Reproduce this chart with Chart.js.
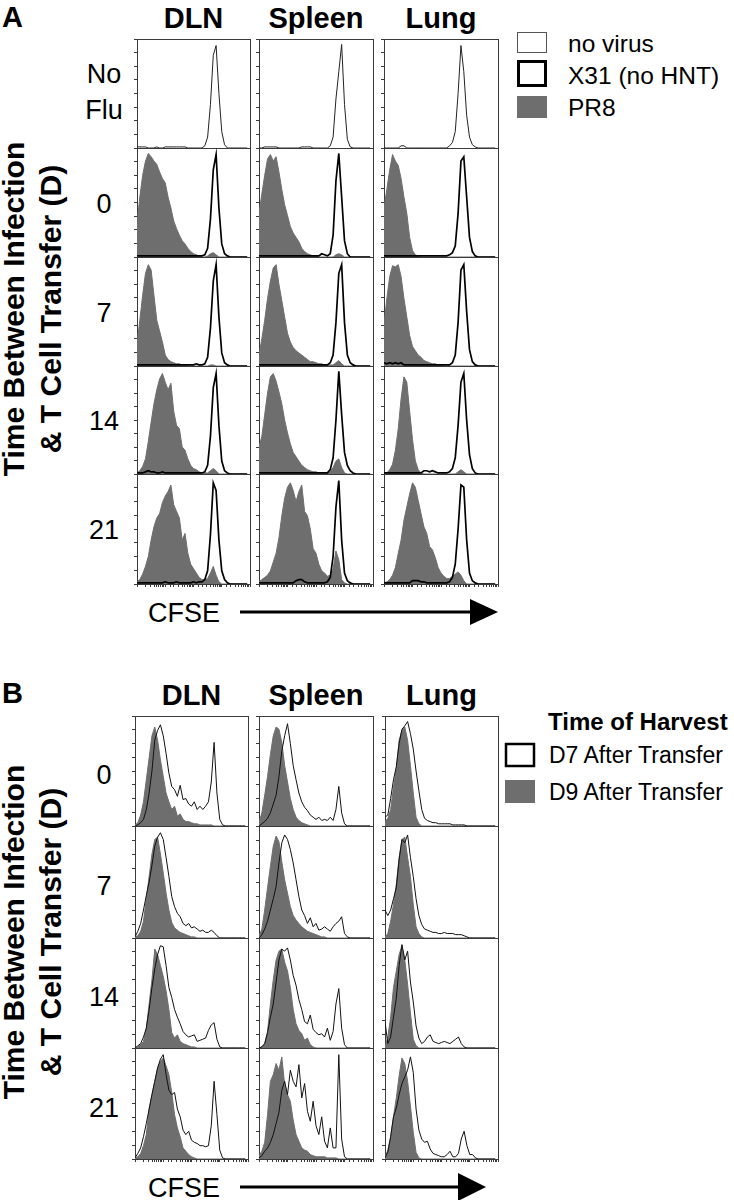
<!DOCTYPE html>
<html>
<head>
<meta charset="utf-8">
<script src="https://cdn.jsdelivr.net/npm/chart.js@4.4.1/dist/chart.umd.min.js"></script>
<style>
  body { margin: 0; background: #fff; }
  #fig { position: relative; width: 734px; height: 1200px; font-family: "Liberation Sans", Arial, sans-serif; }
  #ann { position: absolute; left: 0; top: 0; }
  canvas { position: absolute; }
</style>
</head>
<body>
<div id="fig">
  <svg id="ann" width="734" height="1200" font-family="Liberation Sans, Arial, sans-serif"></svg>
</div>
<script>
// labels
const tissues = ["DLN", "Spleen", "Lung"];
const rowLabelsA = [["No", "Flu"], ["0"], ["7"], ["14"], ["21"]];
const rowLabelsB = ["0", "7", "14", "21"];
const legendA = ["no virus", "X31 (no HNT)", "PR8"];
const legendTitleB = "Time of Harvest";
const legendB = ["D7 After Transfer", "D9 After Transfer"];
const yTitle = ["Time Between Infection", "& T Cell Transfer (D)"];
const xTitle = "CFSE";

// histograms, 40 CFSE bins each, % of max count
// A, no flu (no virus)
const noVirusDLN    = [1,1,1,1,0,0,0,1,0,0,1,1,1,1,1,1,1,1,0,0,0,0,0,0,2,10,40,85,94,50,15,3,0,0,0,0,0,0,0,0];
const noVirusSpleen = [0,0,1,1,1,1,1,0,0,0,0,0,0,0,0,1,1,1,1,0,0,0,0,0,0,2,10,45,70,95,40,8,1,0,0,0,0,0,0,0];
const noVirusLung   = [0,0,0,0,0,0,2,2,0,0,0,0,0,0,0,0,0,0,0,0,0,0,0,2,5,15,50,94,70,30,10,3,1,0,0,0,0,0,0,0];

// A, day 0
const x31_0_DLN    = [1,1,1,1,1,1,1,1,1,1,1,1,1,1,1,1,1,1,1,1,1,1,1,1,2,8,35,80,94,45,12,3,1,0,0,0,0,0,0,0];
const pr8_0_DLN    = [30,55,75,88,95,92,88,85,78,72,68,55,45,33,26,20,15,12,8,5,3,2,1,0,0,1,3,4,2,0,0,0,0,0,0,0,0,0,0,0];
const x31_0_Spleen = [1,1,1,1,1,1,1,1,1,1,1,1,1,1,1,1,1,1,1,1,1,1,3,2,1,3,20,70,95,55,15,3,0,0,0,0,0,0,0,0];
const pr8_0_Spleen = [40,58,75,90,94,88,92,78,62,48,38,28,22,18,14,8,5,3,2,1,1,0,0,0,0,0,0,2,3,2,0,0,0,0,0,0,0,0,0,0];
const x31_0_Lung   = [1,1,1,1,1,1,1,1,1,1,1,1,1,1,1,1,1,1,1,1,1,1,1,2,4,10,40,88,92,55,18,5,1,0,0,0,0,0,0,0];
const pr8_0_Lung   = [45,62,80,94,88,84,72,55,40,18,6,2,1,0,0,0,0,0,0,0,0,0,0,0,0,0,0,0,0,0,0,0,0,0,0,0,0,0,0,0];

// A, day 7
const x31_7_DLN    = [1,1,1,1,1,1,1,1,1,1,1,1,1,1,1,1,1,1,1,1,1,2,1,1,2,8,35,78,93,45,12,3,1,0,0,0,0,0,0,0];
const pr8_7_DLN    = [20,42,65,85,93,88,65,42,32,22,10,6,4,3,2,2,1,1,0,0,0,0,0,0,0,0,1,1,0,0,0,0,0,0,0,0,0,0,0,0];
const x31_7_Spleen = [1,1,1,1,1,1,1,1,1,1,1,1,1,1,1,1,1,1,1,1,1,1,1,1,1,3,10,40,85,93,40,10,3,1,0,0,0,0,0,0];
const pr8_7_Spleen = [10,25,42,62,78,90,93,75,60,45,30,22,17,14,12,10,8,6,4,4,3,2,2,1,1,1,1,3,5,2,0,0,0,0,0,0,0,0,0,0];
const x31_7_Lung   = [3,2,3,2,3,2,3,1,1,1,1,1,1,1,1,1,1,1,1,1,1,1,1,1,3,10,40,88,93,50,15,4,1,0,0,0,0,0,0,0];
const pr8_7_Lung   = [38,62,82,92,91,93,82,62,45,28,18,14,10,8,5,4,3,2,2,1,1,0,0,0,0,0,0,0,0,0,0,0,0,0,0,0,0,0,0,0];

// A, day 14
const x31_14_DLN    = [1,1,1,2,3,2,2,1,1,2,1,1,1,1,1,1,1,1,1,1,1,1,1,1,2,8,35,80,93,45,12,3,1,0,0,0,0,0,0,0];
const pr8_14_DLN    = [1,3,7,14,30,48,65,78,88,93,85,78,84,58,45,42,25,22,14,8,5,4,2,1,1,1,3,5,3,0,0,0,0,0,0,0,0,0,0,0];
const x31_14_Spleen = [1,1,1,1,1,1,1,1,1,1,1,1,1,1,1,1,1,1,1,1,1,1,1,1,1,4,15,50,95,55,20,8,3,1,0,0,0,0,0,0];
const pr8_14_Spleen = [25,35,55,75,90,93,86,76,65,50,38,28,20,16,12,8,6,4,3,2,2,1,1,1,1,2,6,12,14,6,1,0,0,0,0,0,0,0,0,0];
const x31_14_Lung   = [1,1,1,1,1,1,1,1,1,1,1,1,1,1,3,3,2,3,2,1,1,1,1,2,5,15,45,85,93,50,18,5,1,0,0,0,0,0,0,0];
const pr8_14_Lung   = [0,1,4,9,22,42,70,90,85,58,32,12,4,1,0,0,0,0,0,0,0,0,0,0,0,0,2,4,2,0,0,0,0,0,0,0,0,0,0,0];

// A, day 21
const x31_21_DLN    = [1,1,1,1,1,1,1,1,1,1,2,1,1,1,2,1,1,1,1,1,2,1,2,2,4,12,45,92,85,40,12,4,1,0,0,0,0,0,0,0];
const pr8_21_DLN    = [2,4,9,16,25,40,52,60,64,74,80,84,90,72,66,60,40,46,28,18,14,10,6,4,4,5,10,16,8,2,0,0,0,0,0,0,0,0,0,0];
const x31_21_Spleen = [1,1,1,1,1,1,1,1,1,1,1,1,1,3,4,4,2,1,1,1,1,1,1,1,2,6,25,70,94,40,10,3,1,0,0,0,0,0,0,0];
const pr8_21_Spleen = [2,4,6,8,12,20,28,42,62,78,88,92,85,75,84,90,66,62,50,32,28,18,12,10,7,8,14,30,22,4,1,0,0,0,0,0,0,0,0,0];
const x31_21_Lung   = [1,1,1,1,1,1,1,1,1,1,3,3,3,2,2,1,1,1,1,1,1,1,1,2,6,18,50,90,88,40,10,3,1,0,0,0,0,0,0,0];
const pr8_21_Lung   = [1,2,4,8,15,28,40,58,70,82,92,88,76,64,52,46,34,31,24,15,10,7,5,5,7,9,11,8,3,0,0,0,0,0,0,0,0,0,0,0];

// B, day 0
const d7_0_DLN    = [0,1,3,6,15,30,50,78,87,92,82,66,48,36,33,27,37,24,25,20,18,22,15,18,15,18,22,40,76,30,6,1,0,0,0,0,0,0,0,0];
const d9_0_DLN    = [1,3,10,22,42,62,82,90,78,60,45,30,22,15,18,9,11,6,4,4,3,2,2,1,1,1,1,1,0,0,0,0,0,0,0,0,0,0,0,0];
const d7_0_Spleen = [0,2,4,7,12,20,28,45,68,82,93,75,55,42,30,22,17,14,10,8,6,8,5,6,5,8,5,15,36,12,2,0,0,0,0,0,0,0,0,0];
const d9_0_Spleen = [3,12,28,45,65,82,90,88,76,55,40,25,15,8,5,3,2,1,0,0,0,0,0,0,0,0,0,0,0,0,0,0,0,0,0,0,0,0,0,0];
const d7_0_Lung   = [8,10,25,42,54,75,88,91,95,84,70,50,32,15,7,5,4,3,3,2,2,2,2,2,1,1,1,1,1,0,0,0,0,0,0,0,0,0,0,0];
const d9_0_Lung   = [4,7,15,35,52,78,87,90,78,55,30,8,2,0,0,0,0,0,0,0,0,0,0,0,0,0,0,0,0,0,0,0,0,0,0,0,0,0,0,0];

// B, day 7
const d7_7_DLN    = [1,6,13,25,38,50,65,82,90,94,88,72,55,37,28,22,19,13,11,13,9,10,8,6,7,5,5,7,5,2,0,0,0,0,0,0,0,0,0,0];
const d9_7_DLN    = [1,2,6,15,35,55,75,88,90,75,58,40,25,14,9,7,5,4,3,2,1,1,0,0,0,0,0,0,0,0,0,0,0,0,0,0,0,0,0,0];
const d7_7_Spleen = [0,3,8,15,25,35,46,67,85,92,88,79,67,52,37,25,20,13,18,10,13,7,8,10,8,6,10,13,15,19,4,1,0,0,0,0,0,0,0,0];
const d9_7_Spleen = [2,8,25,45,64,82,91,86,68,52,40,28,20,16,13,10,8,6,5,4,3,2,1,1,0,0,0,0,0,0,0,0,0,0,0,0,0,0,0,0];
const d7_7_Lung   = [25,20,25,35,45,70,88,85,92,72,55,35,20,12,8,7,6,5,5,4,4,5,4,4,4,3,3,3,2,1,0,0,0,0,0,0,0,0,0,0];
const d9_7_Lung   = [1,4,15,30,48,72,88,90,72,55,30,10,4,1,0,0,0,0,0,0,0,0,0,0,0,0,0,0,0,0,0,0,0,0,0,0,0,0,0,0];

// B, day 14
const d7_14_DLN    = [0,2,4,10,18,35,55,72,85,93,92,75,55,46,35,28,22,15,12,10,11,12,6,7,8,9,16,21,23,8,1,0,0,0,0,0,0,0,0,0];
const d9_14_DLN    = [0,1,3,6,18,40,62,90,85,75,65,52,35,14,9,12,6,4,3,2,1,1,0,0,0,0,0,0,0,0,0,0,0,0,0,0,0,0,0,0];
const d7_14_Spleen = [0,1,4,14,28,40,60,80,90,88,91,80,66,57,44,35,24,22,30,17,14,12,13,10,18,7,15,40,54,18,3,0,0,0,0,0,0,0,0,0];
const d9_14_Spleen = [0,1,4,15,40,62,80,88,90,78,70,55,35,22,16,13,7,9,3,1,0,0,0,0,0,0,0,0,0,0,0,0,0,0,0,0,0,0,0,0];
const d7_14_Lung   = [24,4,10,28,45,75,94,80,88,60,42,20,9,4,6,10,12,6,5,4,5,6,5,4,6,8,10,4,1,0,0,0,0,0,0,0,0,0,0,0];
const d9_14_Lung   = [1,10,28,55,70,85,93,80,58,32,8,2,0,0,0,0,0,0,0,0,0,0,0,0,0,0,0,0,0,0,0,0,0,0,0,0,0,0,0,0];

// B, day 21
const d7_21_DLN    = [1,5,10,20,32,45,58,70,82,90,94,76,62,58,60,45,38,26,22,25,17,15,14,12,12,11,12,30,70,40,8,1,0,0,0,0,0,0,0,0];
const d9_21_DLN    = [1,2,5,12,22,45,58,70,82,88,91,84,76,60,40,28,20,10,7,4,2,1,0,0,0,0,0,0,0,0,0,0,0,0,0,0,0,0,0,0];
const d7_21_Spleen = [1,3,7,10,15,22,32,42,62,70,58,80,70,65,85,55,68,43,34,52,30,22,38,16,10,28,10,10,94,18,2,0,0,0,0,0,0,0,0,0];
const d9_21_Spleen = [3,7,15,40,70,76,86,80,92,67,58,52,35,22,16,10,8,7,4,3,2,2,2,2,1,1,1,1,0,0,0,0,0,0,0,0,0,0,0,0];
const d7_21_Lung   = [1,6,20,38,46,58,68,74,80,92,78,45,26,18,15,16,9,5,4,3,2,2,4,7,2,2,5,18,25,12,4,4,1,0,0,0,0,0,0,0];
const d9_21_Lung   = [2,8,20,38,55,75,91,86,70,48,24,6,1,0,0,0,0,0,0,0,0,0,0,0,0,0,0,0,0,0,0,0,0,0,0,0,0,0,0,0];

const rowsA = [
  { line: [noVirusDLN, noVirusSpleen, noVirusLung], fill: null },
  { line: [x31_0_DLN, x31_0_Spleen, x31_0_Lung], fill: [pr8_0_DLN, pr8_0_Spleen, pr8_0_Lung] },
  { line: [x31_7_DLN, x31_7_Spleen, x31_7_Lung], fill: [pr8_7_DLN, pr8_7_Spleen, pr8_7_Lung] },
  { line: [x31_14_DLN, x31_14_Spleen, x31_14_Lung], fill: [pr8_14_DLN, pr8_14_Spleen, pr8_14_Lung] },
  { line: [x31_21_DLN, x31_21_Spleen, x31_21_Lung], fill: [pr8_21_DLN, pr8_21_Spleen, pr8_21_Lung] },
];
const rowsB = [
  { line: [d7_0_DLN, d7_0_Spleen, d7_0_Lung], fill: [d9_0_DLN, d9_0_Spleen, d9_0_Lung] },
  { line: [d7_7_DLN, d7_7_Spleen, d7_7_Lung], fill: [d9_7_DLN, d9_7_Spleen, d9_7_Lung] },
  { line: [d7_14_DLN, d7_14_Spleen, d7_14_Lung], fill: [d9_14_DLN, d9_14_Spleen, d9_14_Lung] },
  { line: [d7_21_DLN, d7_21_Spleen, d7_21_Lung], fill: [d9_21_DLN, d9_21_Spleen, d9_21_Lung] },
];
const binCount = 40;

// layout (px)
const colLeftA = [137, 259, 384], colWidthA = [113, 114, 114];
const rowEdgeA = [39, 148, 257, 366, 474, 584];
const colLeftB = [135, 259, 385], colWidthB = [113, 114, 113];
const rowEdgeB = [716, 826, 938, 1048, 1159];
const GRAY = "#6e6e6e";
const AXIS = "#3a3a3a";

const fig = document.getElementById("fig");
const svg = document.getElementById("ann");
const svgNS = "http://www.w3.org/2000/svg";

function addSvg(tag, attrs, text) {
  const el = document.createElementNS(svgNS, tag);
  for (const k in attrs) el.setAttribute(k, attrs[k]);
  if (text !== undefined) el.textContent = text;
  svg.appendChild(el);
  return el;
}

function toPoints(vals) {
  return vals.map((v, i) => ({ x: i, y: v }));
}

function drawPanel(left, top, w, h, bottomRow, lineVals, fillVals, lineColor, lineWidth) {
  const canvas = document.createElement("canvas");
  canvas.width = w + 4;
  canvas.height = h + (bottomRow ? 3 : 0);
  canvas.style.left = (left - 3) + "px";
  canvas.style.top = top + "px";
  fig.appendChild(canvas);

  const datasets = [{
    data: toPoints(lineVals), xAxisID: "x", yAxisID: "y",
    borderColor: lineColor, borderWidth: lineWidth, fill: false, pointRadius: 0, tension: 0,
  }];
  if (fillVals) {
    datasets.push({
      data: toPoints(fillVals), xAxisID: "x", yAxisID: "y",
      borderColor: GRAY, backgroundColor: GRAY, borderWidth: 1, fill: "origin", pointRadius: 0, tension: 0,
    });
  }
  const border = { display: true, color: AXIS, width: 1 };
  new Chart(canvas, {
    type: "line",
    data: { datasets },
    options: {
      responsive: false,
      animation: false,
      events: [],
      layout: { padding: { right: 1 } },
      plugins: { legend: { display: false }, tooltip: { enabled: false } },
      scales: {
        x: { type: "linear", min: 0, max: binCount, display: false },
        y: {
          type: "linear", position: "left", min: 0, max: 100,
          ticks: { display: false, stepSize: 12.5 },
          grid: { drawOnChartArea: false, drawTicks: true, tickLength: 3, color: AXIS },
          border,
        },
        xt: {
          type: "logarithmic", position: "bottom", min: 1, max: 10000,
          ticks: { display: false },
          grid: { drawOnChartArea: false, drawTicks: bottomRow, tickLength: 3, color: AXIS },
          border,
        },
        x2: {
          type: "linear", position: "top",
          ticks: { display: false }, grid: { display: false, drawTicks: false }, border,
        },
        y2: {
          type: "linear", position: "right",
          ticks: { display: false }, grid: { display: false, drawTicks: false }, border,
        },
      },
    },
  });
}

// panel A
rowsA.forEach((row, r) => {
  for (let c = 0; c < 3; c++) {
    const noFlu = !row.fill;
    drawPanel(colLeftA[c], rowEdgeA[r], colWidthA[c], rowEdgeA[r + 1] - rowEdgeA[r], r === rowsA.length - 1,
      row.line[c], row.fill ? row.fill[c] : null, noFlu ? "#222" : "#000", noFlu ? 1 : 1.7);
  }
});
// panel B
rowsB.forEach((row, r) => {
  for (let c = 0; c < 3; c++) {
    drawPanel(colLeftB[c], rowEdgeB[r], colWidthB[c], rowEdgeB[r + 1] - rowEdgeB[r], r === rowsB.length - 1,
      row.line[c], row.fill[c], "#111", 1);
  }
});

// letters and titles
addSvg("text", { x: 2, y: 27, "font-size": 29, "font-weight": "bold" }, "A");
addSvg("text", { x: 2, y: 703, "font-size": 29, "font-weight": "bold" }, "B");
tissues.forEach((t, c) => {
  addSvg("text", { x: colLeftA[c] + colWidthA[c] / 2, y: 28, "font-size": 29, "font-weight": "bold", "text-anchor": "middle" }, t);
  addSvg("text", { x: colLeftB[c] + colWidthB[c] / 2, y: 705, "font-size": 29, "font-weight": "bold", "text-anchor": "middle" }, t);
});

// row labels
addSvg("text", { x: 104, y: 83, "font-size": 27, "text-anchor": "middle" }, rowLabelsA[0][0]);
addSvg("text", { x: 104, y: 119, "font-size": 27, "text-anchor": "middle" }, rowLabelsA[0][1]);
for (let r = 1; r < rowLabelsA.length; r++) {
  const mid = (rowEdgeA[r] + rowEdgeA[r + 1]) / 2;
  addSvg("text", { x: 104, y: mid + 10, "font-size": 27, "text-anchor": "middle" }, rowLabelsA[r][0]);
}
rowLabelsB.forEach((lab, r) => {
  const mid = (rowEdgeB[r] + rowEdgeB[r + 1]) / 2;
  addSvg("text", { x: 104, y: mid + 13, "font-size": 27, "text-anchor": "middle" }, lab);
});

// rotated y titles
[309, 932].forEach((cy) => {
  addSvg("text", { transform: `translate(24,${cy}) rotate(-90)`, "font-size": 30, "font-weight": "bold", "text-anchor": "middle" }, yTitle[0]);
  addSvg("text", { transform: `translate(61,${cy}) rotate(-90)`, "font-size": 30, "font-weight": "bold", "text-anchor": "middle" }, yTitle[1]);
});

// legend A
addSvg("rect", { x: 517.5, y: 32.5, width: 29, height: 20, fill: "#fff", stroke: "#555", "stroke-width": 1 });
addSvg("rect", { x: 518.5, y: 61.5, width: 27, height: 24, fill: "#fff", stroke: "#000", "stroke-width": 3 });
addSvg("rect", { x: 517, y: 96, width: 30, height: 22, fill: GRAY });
[52, 84, 116].forEach((y, i) => addSvg("text", { x: 568, y, "font-size": 24.5 }, legendA[i]));

// legend B
addSvg("text", { x: 548, y: 730, "font-size": 24, "font-weight": "bold" }, legendTitleB);
addSvg("rect", { x: 506, y: 744, width: 28, height: 22, fill: "#fff", stroke: "#000", "stroke-width": 2.5 });
addSvg("rect", { x: 505, y: 780, width: 30, height: 23, fill: GRAY });
[763, 800].forEach((y, i) => addSvg("text", { x: 549, y, "font-size": 23 }, legendB[i]));

// CFSE arrows
addSvg("text", { x: 148, y: 622, "font-size": 27 }, xTitle);
addSvg("line", { x1: 240, y1: 612, x2: 472, y2: 612, stroke: "#000", "stroke-width": 3 });
addSvg("polygon", { points: "470,599 498,612 470,625", fill: "#000" });
addSvg("text", { x: 148, y: 1197, "font-size": 27 }, xTitle);
addSvg("line", { x1: 240, y1: 1187, x2: 460, y2: 1187, stroke: "#000", "stroke-width": 3 });
addSvg("polygon", { points: "458,1173 486,1187 458,1201", fill: "#000" });
</script>
</body>
</html>
